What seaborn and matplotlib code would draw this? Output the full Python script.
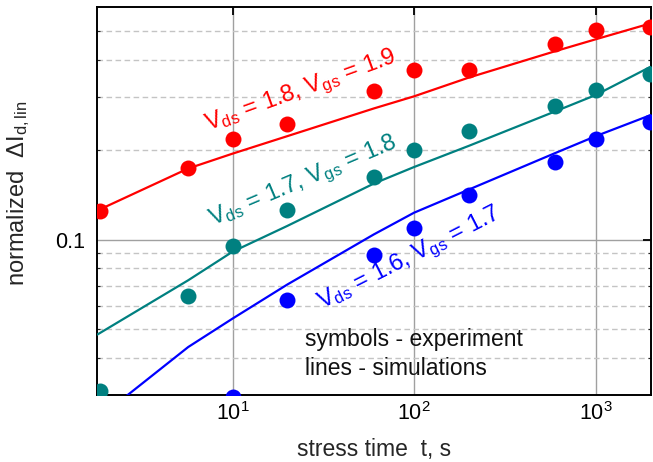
import matplotlib
matplotlib.use("Agg")
import matplotlib.pyplot as plt
import matplotlib.ticker as mticker
import numpy as np
import pandas as pd
import seaborn as sns

# stress times (s)
t_exp = [1.87, 5.7, 10, 20, 60, 100, 200, 600, 1000, 2000]
t_exp_blue = [10, 20, 60, 100, 200, 600, 1000, 2000]
t_sim = [1.8, 5.7, 10, 20, 60, 100, 200, 600, 1000, 2000]

# experiment (symbols)
red_exp = [0.125, 0.173, 0.217, 0.244, 0.315, 0.370, 0.371, 0.451, 0.504, 0.517]
teal_exp = [0.031, 0.0645, 0.095, 0.126, 0.162, 0.200, 0.231, 0.281, 0.318, 0.358]
blue_exp = [0.0296, 0.0629, 0.0885, 0.1096, 0.1407, 0.182, 0.218, 0.248]

# simulations (lines)
red_sim = [0.125, 0.173, 0.194, 0.222, 0.275, 0.302, 0.349, 0.428, 0.469, 0.530]
teal_sim = [0.048, 0.073, 0.091, 0.111, 0.154, 0.175, 0.206, 0.269, 0.305, 0.379]
blue_sim = [0.025, 0.0436, 0.0543, 0.0706, 0.104, 0.123, 0.147, 0.195, 0.222, 0.261]

series_labels = [r"V$_{\mathrm{ds}}$ = 1.8, V$_{\mathrm{gs}}$ = 1.9",
                 r"V$_{\mathrm{ds}}$ = 1.7, V$_{\mathrm{gs}}$ = 1.8",
                 r"V$_{\mathrm{ds}}$ = 1.6, V$_{\mathrm{gs}}$ = 1.7"]
colors = ["#ff0000", "#008080", "#0000ff"]

sns.set_style("white")
plt.rcParams["font.family"] = ["Liberation Sans", "DejaVu Sans"]
plt.rcParams["mathtext.fontset"] = "custom"
plt.rcParams["mathtext.rm"] = "Liberation Sans"
plt.rcParams["mathtext.it"] = "Liberation Sans:italic"
plt.rcParams["mathtext.default"] = "rm"

fig = plt.figure(figsize=(6.53, 4.62), dpi=100)
ax = fig.add_axes([0.149, 0.144, 0.8475, 0.840])
ax.set_xscale("log")
ax.set_yscale("log")

exp_sets = [(t_exp, red_exp), (t_exp, teal_exp), (t_exp_blue, blue_exp)]
sim_sets = [red_sim, teal_sim, blue_sim]
for (tx, yx), ys, col in zip(exp_sets, sim_sets, colors):
    sim = pd.DataFrame({"t": t_sim, "y": ys})
    exp = pd.DataFrame({"t": tx, "y": yx})
    sns.lineplot(data=sim, x="t", y="y", color=col, lw=1.6, ax=ax, zorder=3)
    sns.scatterplot(data=exp, x="t", y="y", color=col, s=132, linewidth=0, ax=ax, zorder=4)

ax.set_xlim(1.8, 2010)
ax.set_ylim(0.03, 0.6)

# rotated series labels
label_pos = [(7.3, 0.232, 20), (7.75, 0.1112, 23), (31.1, 0.0583, 27)]
for lab, (px, py, rot), col in zip(series_labels, label_pos, colors):
    ax.text(px, py, lab, color=col, fontsize=17, rotation=rot,
            rotation_mode="anchor", ha="left", va="baseline", zorder=5)

ax.text(0.375, 0.1275, "symbols - experiment", transform=ax.transAxes,
        fontsize=16.5, color="#111111", va="baseline")
ax.text(0.375, 0.053, "lines - simulations", transform=ax.transAxes,
        fontsize=16.5, color="#111111", va="baseline")

# ticks and grid
ax.xaxis.set_major_locator(mticker.FixedLocator([10, 100, 1000]))
ax.xaxis.set_minor_locator(mticker.NullLocator())
ax.yaxis.set_major_locator(mticker.FixedLocator([0.1]))
ax.yaxis.set_major_formatter(mticker.FixedFormatter(["0.1"]))
ax.yaxis.set_minor_locator(mticker.FixedLocator([0.04, 0.05, 0.06, 0.07, 0.08, 0.09,
                                                 0.2, 0.3, 0.4, 0.5]))
ax.yaxis.set_minor_formatter(mticker.NullFormatter())
ax.tick_params(which="major", direction="in", length=6, width=1.3,
               top=True, right=True, labelsize=15.5, colors="black")
ax.tick_params(axis="x", which="major", pad=5)
ax.tick_params(axis="y", which="major", pad=9)
ax.tick_params(which="minor", direction="in", length=2.5, width=0.8,
               left=True, right=True)

ax.grid(which="major", color="#a0a0a0", lw=1.0, ls="-")
ax.grid(which="minor", axis="y", color="#c4c4c4", lw=1.0, ls=(0, (4, 2.5)))
ax.set_axisbelow(True)
for sp in ax.spines.values():
    sp.set_color("black")
    sp.set_linewidth(1.4)

ax.set_xlabel("stress time  t, s", fontsize=16.5, labelpad=9)
ax.set_ylabel(r"normalized  $\Delta$I$_{\mathrm{d,lin}}$", fontsize=17, labelpad=9)
ax.yaxis.set_label_coords(-0.118, 0.52)

fig.savefig("out.png", dpi=100)
